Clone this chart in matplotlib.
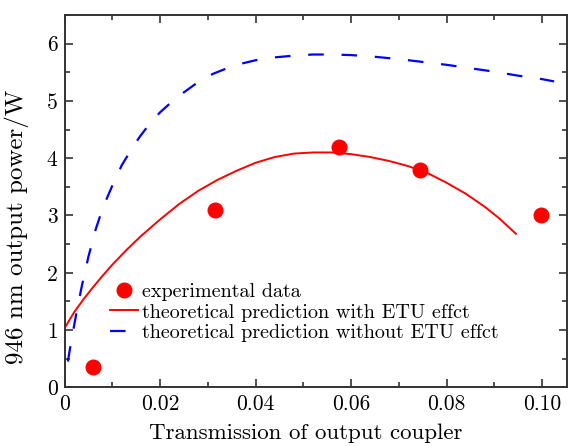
import matplotlib
matplotlib.use("Agg")
import matplotlib.pyplot as plt
from matplotlib.ticker import MultipleLocator, FuncFormatter

plt.rcParams['font.family'] = ['cmr10', 'DejaVu Serif']
plt.rcParams['mathtext.fontset'] = 'cm'
plt.rcParams['axes.formatter.use_mathtext'] = True

# experimental data
exp_x = [0.006, 0.0315, 0.0575, 0.0745, 0.0998]
exp_y = [0.35, 3.10, 4.20, 3.80, 3.00]

# theoretical prediction with ETU effect
etu_x = [0.0, 0.002, 0.004, 0.006, 0.008, 0.010, 0.013, 0.016, 0.020, 0.024, 0.028,
         0.032, 0.036, 0.040, 0.044, 0.048, 0.052, 0.056, 0.060, 0.064, 0.068,
         0.072, 0.076, 0.080, 0.084, 0.088, 0.091, 0.0945]
etu_y = [1.03, 1.31, 1.54, 1.75, 1.95, 2.14, 2.40, 2.64, 2.93, 3.20, 3.43,
         3.62, 3.78, 3.92, 4.02, 4.08, 4.10, 4.10, 4.07, 4.02, 3.95,
         3.86, 3.74, 3.57, 3.38, 3.15, 2.95, 2.68]

# theoretical prediction without ETU effect
noetu_x = [0.0007, 0.0015, 0.0025, 0.0036, 0.005, 0.0065, 0.008, 0.010, 0.012, 0.0145,
           0.0158, 0.018, 0.020, 0.022, 0.025, 0.028, 0.031, 0.034, 0.037, 0.040,
           0.044, 0.048, 0.052, 0.056, 0.060, 0.065, 0.070, 0.075, 0.080, 0.085,
           0.090, 0.095, 0.100, 0.1025]
noetu_y = [0.45, 0.85, 1.30, 1.76, 2.28, 2.75, 3.13, 3.52, 3.88, 4.22,
           4.38, 4.62, 4.80, 4.95, 5.15, 5.33, 5.47, 5.57, 5.65, 5.71,
           5.76, 5.79, 5.81, 5.81, 5.80, 5.77, 5.73, 5.68, 5.63, 5.57,
           5.51, 5.44, 5.38, 5.34]

fig = plt.figure(figsize=(5.71, 4.46), dpi=100)
ax = fig.add_axes([0.113, 0.1316, 0.880, 0.8348])

ax.plot(exp_x, exp_y, 'o', color='#ff0000', markersize=10.5, label='experimental data', zorder=3)
ax.plot(etu_x, etu_y, '-', color='#ff0000', lw=1.4, label='theoretical prediction with ETU effct')
ax.plot(noetu_x, noetu_y, color='#0000ff', lw=1.6, dashes=(7, 8),
        label='theoretical prediction without ETU effct')

ax.set_xlim(0, 0.1052)
ax.set_ylim(0, 6.5)
ax.xaxis.set_major_locator(MultipleLocator(0.02))
ax.xaxis.set_minor_locator(MultipleLocator(0.01))
ax.yaxis.set_major_locator(MultipleLocator(1))
ax.yaxis.set_minor_locator(MultipleLocator(0.5))
ax.xaxis.set_major_formatter(FuncFormatter(lambda v, p: '0' if abs(v) < 1e-9 else f'{v:.2f}'))
ax.yaxis.set_major_formatter(FuncFormatter(lambda v, p: f'{v:.0f}'))

ax.tick_params(which='both', direction='in', top=True, right=True, colors='#333333',
               labelcolor='black', labelsize=15.5)
ax.tick_params(which='major', length=6, width=1.2, pad=5)
ax.tick_params(which='minor', length=3.5, width=1.2)
for s in ax.spines.values():
    s.set_color('#333333')
    s.set_linewidth(1.4)

ax.set_xlabel('Transmission of output coupler', fontsize=16.5)
ax.set_ylabel('946 nm output power/W', fontsize=18)
ax.xaxis.set_label_coords(0.479, -0.097)
ax.yaxis.set_label_coords(-0.07, 0.43)

leg = ax.legend(loc='lower left', bbox_to_anchor=(0.075, 0.1), frameon=False, fontsize=14.5,
                handlelength=1.4, handletextpad=0.2, labelspacing=0.12, borderaxespad=0)

fig.savefig('out.png', dpi=100)
